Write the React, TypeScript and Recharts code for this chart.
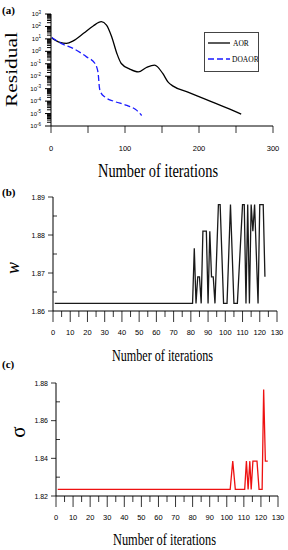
import { LineChart, Line, XAxis, YAxis, Legend } from "recharts";

// (a) residual history
const aorIter = [1, 12, 21, 30, 44, 57, 68, 75, 82, 89, 95, 107, 118, 129, 140, 151, 158, 165, 185, 210, 240, 257];
const aorResidual = [12, 5.2, 4.4, 7, 28, 110, 240, 130, 15, 0.68, 0.105, 0.036, 0.022, 0.05, 0.078, 0.0166, 0.0035, 0.0016, 0.00053, 0.00013, 0.000025, 9e-6];
const doaorIter = [1, 15, 30, 48, 59.5, 61.7, 64, 65.3, 67, 73, 84.5, 102.6, 116, 122.5];
const doaorResidual = [13, 4, 1.7, 0.36, 0.105, 0.056, 0.012, 0.0014, 0.00054, 0.00021, 0.0001, 0.000045, 0.000018, 0.000007];

// (b) w per iteration
const wIter = [1, 81, 82, 83, 84, 85, 86, 87, 89, 90, 91, 92, 93, 94, 96, 97, 99, 101, 103, 105, 107, 110, 111, 112, 113, 114, 115, 116, 117, 119, 120, 122, 123];
const wValue = [1.862, 1.862, 1.8765, 1.862, 1.869, 1.869, 1.862, 1.881, 1.881, 1.862, 1.881, 1.869, 1.869, 1.862, 1.888, 1.888, 1.862, 1.862, 1.888, 1.862, 1.862, 1.888, 1.888, 1.862, 1.888, 1.862, 1.888, 1.881, 1.888, 1.862, 1.888, 1.888, 1.869];

// (c) sigma per iteration
const sigmaIter = [1, 102, 103.5, 105, 110.5, 111.5, 112.5, 113.5, 114.3, 115.3, 117.7, 118.9, 120.7, 121.6, 122.6, 124];
const sigmaValue = [1.8235, 1.8235, 1.8385, 1.8235, 1.8235, 1.8385, 1.8235, 1.8385, 1.8235, 1.8385, 1.8385, 1.8235, 1.8235, 1.8765, 1.8385, 1.8385];

// ticks
const decades = [-6, -5, -4, -3, -2, -1, 0, 1, 2, 3];
const minorMultipliers = [2, 3, 4, 5, 6, 7, 8, 9];
const residualItTicks = [0, 50, 100, 150, 200, 250, 300];
const iterTicks = [0, 5, 10, 15, 20, 25, 30, 35, 40, 45, 50, 55, 60, 65, 70, 75, 80, 85, 90, 95, 100, 105, 110, 115, 120, 125, 130];
const wTicks = [1.86, 1.865, 1.87, 1.875, 1.88, 1.885, 1.89];
const sigmaTicks = [1.82, 1.83, 1.84, 1.85, 1.86, 1.87, 1.88];

const aorData = aorIter.map((iter, i) => ({ iter, r: aorResidual[i] }));
const doaorData = doaorIter.map((iter, i) => ({ iter, r: doaorResidual[i] }));
const wData = wIter.map((iter, i) => ({ iter, v: wValue[i] }));
const sigmaData = sigmaIter.map((iter, i) => ({ iter, v: sigmaValue[i] }));

const logTicks: number[] = [];
decades.forEach((d) => {
  logTicks.push(Math.pow(10, d));
  if (d < 3) minorMultipliers.forEach((m) => logTicks.push(m * Math.pow(10, d)));
});

const SANS = "Liberation Sans, Arial, sans-serif";
const SERIF = "Liberation Serif, Times New Roman, serif";

function LogTick({ x, y, payload }: any) {
  const lg = Math.log10(payload.value);
  const major = Math.abs(lg - Math.round(lg)) < 1e-6;
  return (
    <g>
      <line x1={x - (major ? 6 : 4)} x2={x} y1={y} y2={y} stroke="#000" strokeWidth={1} />
      {major && (
        <text x={x - 10} y={y + 2} textAnchor="end" fontSize={6} fontFamily={SANS} fill="#000">
          10<tspan dy={-2.5} fontSize={4.5}>{Math.round(lg)}</tspan>
        </text>
      )}
    </g>
  );
}

function ResidualItTick({ x, y, payload }: any) {
  const v = payload.value;
  return (
    <g>
      <line x1={x} x2={x} y1={y} y2={y + 7} stroke="#000" strokeWidth={0.8} />
      {v % 100 === 0 && (
        <text x={x} y={y + 25} textAnchor="middle" fontSize={7.5} fontFamily={SANS} fill="#000">
          {v}
        </text>
      )}
    </g>
  );
}

function IterTick({ x, y, payload }: any) {
  const v = payload.value;
  const major = v % 10 === 0;
  return (
    <g>
      <line x1={x} x2={x} y1={y} y2={y + (major ? 11 : 6)} stroke="#000" strokeWidth={0.8} />
      {major && (
        <text x={x} y={y + 24} textAnchor="middle" fontSize={7.5} fontFamily={SANS} fill="#000">
          {v}
        </text>
      )}
    </g>
  );
}

function ValueTick({ x, y, payload, index }: any) {
  const major = index % 2 === 0;
  return (
    <g>
      {major ? (
        <line x1={x - 5} x2={x} y1={y} y2={y} stroke="#000" strokeWidth={0.8} />
      ) : (
        <line x1={x} x2={x + 4} y1={y} y2={y} stroke="#000" strokeWidth={0.8} />
      )}
      {major && (
        <text x={x - 8} y={y + 2.5} textAnchor="end" fontSize={7} fontFamily={SANS} fill="#000">
          {payload.value.toFixed(2)}
        </text>
      )}
    </g>
  );
}

function LegendBox({ payload }: any) {
  const items = payload || [];
  return (
    <div style={{ width: 55, height: 40, border: "1px solid #444", boxSizing: "border-box", background: "#fff" }}>
      <svg width={53} height={38} style={{ display: "block" }}>
        {items.map((p: any, i: number) => (
          <g key={p.value}>
            <line
              x1={3}
              x2={25}
              y1={10 + i * 16}
              y2={10 + i * 16}
              stroke={p.color}
              strokeWidth={1.3}
              strokeDasharray={p.payload && p.payload.strokeDasharray}
            />
            <text x={i === 0 ? 28 : 27} y={13 + i * 16} fontSize={7.5} fontFamily={SERIF} fill="#000">
              {p.value}
            </text>
          </g>
        ))}
      </svg>
    </div>
  );
}

export default function App() {
  return (
    <div style={{ position: "absolute", left: 0, top: 0, width: 288, height: 550, background: "#fff" }}>
      <div style={{ position: "absolute", left: 0, top: 0 }}>
        <LineChart width={288} height={185} margin={{ top: 14, right: 15, left: 0, bottom: 0 }}>
          <XAxis
            dataKey="iter"
            type="number"
            domain={[0, 300]}
            ticks={residualItTicks}
            interval={0}
            height={59}
            stroke="#000"
            tickLine={false}
            tickSize={0}
            tickMargin={0}
            tick={ResidualItTick}
            allowDataOverflow
          />
          <YAxis
            type="number"
            scale="log"
            domain={[1e-6, 1e3]}
            ticks={logTicks}
            interval={0}
            width={51}
            stroke="#000"
            tickLine={false}
            tickSize={0}
            tickMargin={0}
            tick={LogTick}
            allowDataOverflow
          />
          <Legend
            layout="vertical"
            align="center"
            verticalAlign="middle"
            content={LegendBox}
            wrapperStyle={{ left: 204, top: 32, width: 55, height: 40 }}
          />
          <Line
            data={aorData}
            dataKey="r"
            name="AOR"
            type="monotone"
            stroke="#000"
            strokeWidth={1.3}
            dot={false}
            activeDot={false}
            isAnimationActive={false}
          />
          <Line
            data={doaorData}
            dataKey="r"
            name="DOAOR"
            type="monotone"
            stroke="#1a1aff"
            strokeWidth={1.3}
            strokeDasharray="6 3"
            dot={false}
            activeDot={false}
            isAnimationActive={false}
          />
        </LineChart>
      </div>

      <div style={{ position: "absolute", left: 0, top: 185 }}>
        <LineChart width={288} height={180} data={wData} margin={{ top: 12, right: 11, left: 0, bottom: 0 }}>
          <XAxis
            dataKey="iter"
            type="number"
            domain={[0, 130]}
            ticks={iterTicks}
            interval={0}
            height={54}
            stroke="#000"
            tickLine={false}
            tickSize={0}
            tickMargin={0}
            tick={IterTick}
          />
          <YAxis
            type="number"
            domain={[1.86, 1.89]}
            ticks={wTicks}
            interval={0}
            width={53}
            stroke="#000"
            tickLine={false}
            tickSize={0}
            tickMargin={0}
            tick={ValueTick}
            allowDataOverflow
          />
          <Line
            dataKey="v"
            type="linear"
            stroke="#1a1a1a"
            strokeWidth={1.3}
            dot={false}
            activeDot={false}
            isAnimationActive={false}
          />
        </LineChart>
      </div>

      <div style={{ position: "absolute", left: 0, top: 365 }}>
        <LineChart width={288} height={185} data={sigmaData} margin={{ top: 18, right: 10, left: 0, bottom: 0 }}>
          <XAxis
            dataKey="iter"
            type="number"
            domain={[0, 130]}
            ticks={iterTicks}
            interval={0}
            height={54}
            stroke="#000"
            tickLine={false}
            tickSize={0}
            tickMargin={0}
            tick={IterTick}
          />
          <YAxis
            type="number"
            domain={[1.82, 1.88]}
            ticks={sigmaTicks}
            interval={0}
            width={56}
            stroke="#000"
            tickLine={false}
            tickSize={0}
            tickMargin={0}
            tick={ValueTick}
            allowDataOverflow
          />
          <Line
            dataKey="v"
            type="linear"
            stroke="#ee1111"
            strokeWidth={1.3}
            dot={false}
            activeDot={false}
            isAnimationActive={false}
          />
        </LineChart>
      </div>

      <svg
        width={288}
        height={550}
        style={{ position: "absolute", left: 0, top: 0, pointerEvents: "none" }}
        fontFamily={SERIF}
        fill="#000"
      >
        <text x={2} y={14} fontSize={11} fontWeight="bold">(a)</text>
        <text transform="translate(17,69.5) rotate(-90)" textAnchor="middle" fontSize={17} textLength={75} lengthAdjust="spacingAndGlyphs">
          Residual
        </text>
        <text x={158} y={176.5} textAnchor="middle" fontSize={19} textLength={120} lengthAdjust="spacingAndGlyphs">
          Number of iterations
        </text>

        <text x={2} y={196} fontSize={11} fontWeight="bold">(b)</text>
        <text transform="translate(18.5,268) rotate(-90)" textAnchor="middle" fontSize={18} fontStyle="italic">
          w
        </text>
        <text x={162.5} y={361} textAnchor="middle" fontSize={17} textLength={101} lengthAdjust="spacingAndGlyphs">
          Number of iterations
        </text>

        <text x={2} y={368} fontSize={11} fontWeight="bold">(c)</text>
        <text transform="translate(25,432) rotate(-90)" textAnchor="middle" fontSize={21}>
          σ
        </text>
        <text x={164.5} y={545} textAnchor="middle" fontSize={17} textLength={103} lengthAdjust="spacingAndGlyphs">
          Number of iterations
        </text>
      </svg>
    </div>
  );
}
